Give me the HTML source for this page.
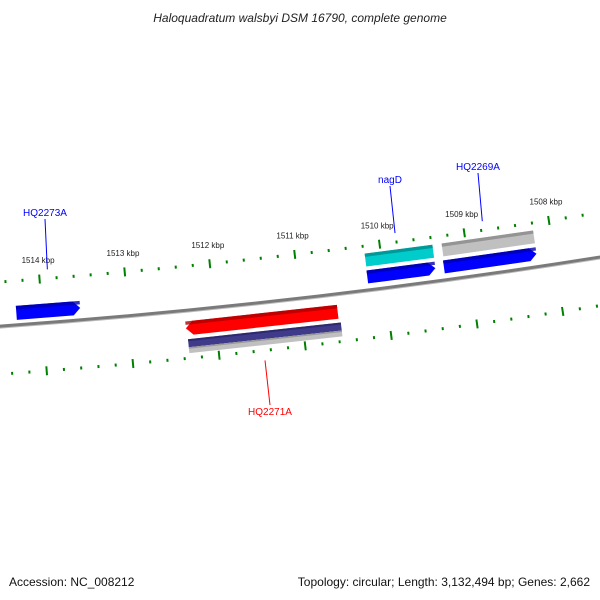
<!DOCTYPE html>
<html><head><meta charset="utf-8"><style>
body{margin:0;background:#fff}
svg{display:block;font-family:"Liberation Sans",sans-serif}
</style></head><body>
<svg id="map" width="600" height="600" viewBox="0 0 600 600">
<text x="300" y="22" text-anchor="middle" font-size="12" font-style="italic" fill="#222">Haloquadratum walsbyi DSM 16790, complete genome</text>
<text x="9" y="586" font-size="12" fill="#111">Accession: NC_008212</text>
<text x="590" y="586" font-size="12" fill="#111" text-anchor="end">Topology: circular; Length: 3,132,494 bp; Genes: 2,662</text>
<g id="layer"></g>
</svg>
<script>
const tickStart = 1507600;
const tickEnd = 1514600;
const majorLabels = ["1508 kbp","1509 kbp","1510 kbp","1511 kbp","1512 kbp","1513 kbp","1514 kbp"];
const majorPositions = [1508000,1509000,1510000,1511000,1512000,1513000,1514000];
const featureNames = ["HQ2273A","HQ2271A","hq2271-purple","hq2271-gray","nagD","nagD-cds","HQ2269A","HQ2269A-cds"];
const featureStarts = [1513554,1510581,1510560,1510560,1509389,1509390,1508200,1508200];
const featureEnds = [1514300,1512352,1512340,1512340,1510187,1510190,1509280,1509290];
const featureStrand = [1,-1,-1,-1,1,1,1,1];
const featureLabels = [
 {name:"HQ2273A", pos:1513900, color:"#0000ff", lx:45, ly:216},
 {name:"HQ2271A", pos:1511480, color:"#ff0000", lx:270, ly:415},
 {name:"nagD", pos:1509804, color:"#0000ff", lx:390, ly:183},
 {name:"HQ2269A", pos:1508772, color:"#0000ff", lx:478, ly:170}
];

const CX=-500, CY=-6656, R=7000, A0=0.1145, K=1.2286e-5;
function ang(p){return A0-(p-1511000)*K;}
function pt(p,r){const a=ang(p);return [CX+r*Math.sin(a), CY+r*Math.cos(a)];}
const NS="http://www.w3.org/2000/svg";
const layer=document.getElementById('layer');
function mk(tag,attrs){const e=document.createElementNS(NS,tag);for(const k in attrs)e.setAttribute(k,attrs[k]);layer.appendChild(e);return e;}
function band(p1,p2,r1,r2,arrowSide){
 const ah=7, rm=(r1+r2)/2;
 let pts=[];
 if(arrowSide===1){const pa=p1+ah/(K*R);pts=[pt(p2,r1),pt(pa,r1),pt(p1,rm),pt(pa,r2),pt(p2,r2)];}
 else if(arrowSide===-1){const pa=p2-ah/(K*R);pts=[pt(p1,r1),pt(pa,r1),pt(p2,rm),pt(pa,r2),pt(p1,r2)];}
 else pts=[pt(p1,r1),pt(p2,r1),pt(p2,r2),pt(p1,r2)];
 return pts.map(q=>q[0].toFixed(2)+','+q[1].toFixed(2)).join(' ');
}
const bb1=pt(1516000,R), bb2=pt(1506500,R);
let e;
e=mk('path',{d:`M${bb1[0]},${bb1[1]+1.5} A${R},${R} 0 0 0 ${bb2[0]},${bb2[1]+1.5}`,stroke:'#bbbbbb','stroke-width':2,fill:'none'});
e=mk('path',{d:`M${bb1[0]},${bb1[1]} A${R},${R} 0 0 0 ${bb2[0]},${bb2[1]}`,stroke:'#7a7a7a','stroke-width':3,fill:'none'});


for(let p=tickStart;p<=tickEnd;p+=200){
 const major=(p%1000===0);
 [R-44,R+48].forEach(r=>{
  const len=major?9:3;
  const a=pt(p,r-len/2), b=pt(p,r+len/2);
  e=mk('line',{x1:a[0],y1:a[1],x2:b[0],y2:b[1],stroke:'#008000','stroke-width':2});
  
  
 });
}
majorPositions.forEach((p,i)=>{
 const q=pt(p,R-63);
 e=mk('text',{x:q[0],y:q[1]+3,'font-size':8,'text-anchor':'middle',fill:'#222'});
 e.textContent=majorLabels[i];
 
 
});
const styles={
 "HQ2273A":{r:-12,t:14,c1:'#0000ff',c2:'#0000aa',arrow:1},
 "HQ2271A":{r:18,t:14,c1:'#ff0000',c2:'#b00000',arrow:-1},
 "hq2271-purple":{r:33,t:8,c1:'#3f3a8a',c2:'#2a2566',arrow:0},
 "hq2271-gray":{r:40,t:6,c1:'#c0c0c0',c2:'#8f8f8f',arrow:0},
 "nagD":{r:-30,t:13,c1:'#00cccc',c2:'#008b8b',arrow:0},
 "nagD-cds":{r:-13,t:13,c1:'#0000ff',c2:'#0000aa',arrow:1},
 "HQ2269A":{r:-30,t:13,c1:'#c0c0c0',c2:'#888888',arrow:0},
 "HQ2269A-cds":{r:-13,t:13,c1:'#0000ff',c2:'#0000aa',arrow:1}
};
featureNames.forEach((n,i)=>{
 const s=styles[n];
 const r1=R+s.r-s.t/2, r2=R+s.r+s.t/2;
 e=mk('polygon',{points:band(featureStarts[i],featureEnds[i],r1,r2,s.arrow),fill:s.c1});
 
 
 e=mk('polygon',{points:band(featureStarts[i],featureEnds[i],r1,r1+s.t*0.25,0),fill:s.c2,opacity:0.8});
 
 
});
featureLabels.forEach(L=>{
 const outer=L.ly<300;
 const q=pt(L.pos,outer?R-53:R+58);
 e=mk('line',{x1:q[0],y1:q[1],x2:L.lx,y2:outer?L.ly+3:L.ly-10,stroke:L.color,'stroke-width':1});
 
 
 e=mk('text',{x:L.lx,y:L.ly,'font-size':10,'text-anchor':'middle',fill:L.color});
 e.textContent=L.name;
 
 
});
</script>
</body></html>
